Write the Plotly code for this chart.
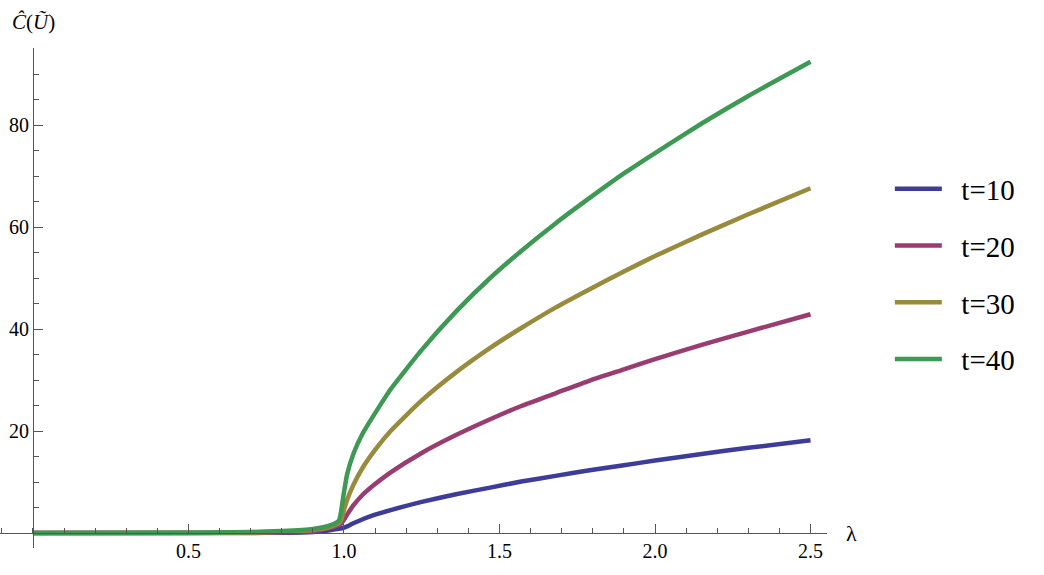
import plotly.graph_objects as go

lam = [0.0, 0.5, 0.7, 0.8, 0.9, 0.95, 0.98, 0.985, 0.99, 1.0, 1.01, 1.03, 1.06, 1.1,
       1.15, 1.25, 1.36, 1.47, 1.57, 1.68, 1.79, 1.9, 2.0, 2.15, 2.3, 2.5]

c_t10 = [0.0, 0.0, 0.02, 0.05, 0.2, 0.5, 0.8, 0.85, 0.9, 1.05, 1.3, 1.9, 2.7, 3.6,
         4.5, 6.1, 7.6, 8.9, 10.1, 11.2, 12.3, 13.3, 14.2, 15.5, 16.7, 18.2]
c_t20 = [0.0, 0.02, 0.05, 0.1, 0.4, 0.9, 1.5, 1.65, 1.8, 2.6, 3.6, 5.4, 7.5, 9.6,
         11.9, 15.7, 19.2, 22.3, 24.9, 27.4, 29.9, 32.1, 34.1, 36.9, 39.5, 42.9]
c_t30 = [0.0, 0.03, 0.1, 0.25, 0.6, 1.1, 1.8, 2.0, 2.4, 4.5, 6.5, 9.4, 12.8, 16.3,
         20.0, 26.0, 31.5, 36.3, 40.2, 44.2, 47.8, 51.3, 54.3, 58.5, 62.5, 67.6]
c_t40 = [0.0, 0.05, 0.2, 0.4, 0.8, 1.4, 2.2, 2.6, 4.0, 8.0, 11.5, 15.5, 19.5, 23.5,
         28.2, 35.9, 43.4, 50.0, 55.3, 60.7, 65.7, 70.5, 74.5, 80.3, 85.7, 92.4]

names = ["t=10", "t=20", "t=30", "t=40"]
series = [c_t10, c_t20, c_t30, c_t40]
colors = ["#3D3D99", "#993D71", "#998B3D", "#3D9954"]

x_ticks = [0.5, 1.0, 1.5, 2.0, 2.5]
x_ticktext = ["0.5", "1.0", "1.5", "2.0", "2.5"]
y_ticks = [20, 40, 60, 80]

xmin, xmax = -0.106, 2.553
ymin, ymax = -2.94, 95.1

fig = go.Figure()
for nm, ys, col in zip(names, series, colors):
    fig.add_trace(go.Scatter(x=lam, y=ys, mode="lines",
                             name="\u00a0\u00a0" + nm, legendgroup=nm,
                             line=dict(color=col, width=4.5, shape="spline",
                                       smoothing=0.5)))

axis_col = "#555555"
fig.update_layout(
    width=1044, height=575,
    margin=dict(l=0, r=217, t=48, b=27),
    paper_bgcolor="white", plot_bgcolor="white",
    font=dict(family="Liberation Serif", color="black", size=20),
    showlegend=True,
    legend=dict(x=1.076, y=0.769, xanchor="left", yanchor="top",
                font=dict(size=29, family="Liberation Serif"),
                tracegroupgap=16, itemwidth=47, bgcolor="rgba(0,0,0,0)"),
    xaxis=dict(range=[xmin, xmax], showgrid=False, zeroline=False,
               showline=True, linecolor=axis_col, linewidth=1,
               anchor="free", position=(0 - ymin) / (ymax - ymin),
               tickmode="array", tickvals=x_ticks, ticktext=x_ticktext,
               ticks="inside", ticklen=9, tickcolor=axis_col,
               tickfont=dict(size=20),
               minor=dict(dtick=0.1, tick0=0, ticks="inside", ticklen=5,
                          tickcolor=axis_col, showgrid=False)),
    yaxis=dict(range=[ymin, ymax], showgrid=False, zeroline=False,
               showline=True, linecolor=axis_col, linewidth=1,
               anchor="free", position=(0 - xmin) / (xmax - xmin),
               tickmode="array", tickvals=y_ticks,
               ticks="inside", ticklen=9, tickcolor=axis_col,
               tickfont=dict(size=20),
               minor=dict(dtick=5, tick0=0, ticks="inside", ticklen=5,
                          tickcolor=axis_col, showgrid=False)),
)

fig.add_annotation(text="<i>Ĉ</i>(<i>Ũ</i>)", xref="paper", yref="paper",
                   x=0.041, y=1.052, xanchor="center", yanchor="middle",
                   showarrow=False, font=dict(size=21, family="Liberation Serif"))
fig.add_annotation(text="λ", xref="paper", yref="y",
                   x=1.030, y=0, xanchor="center", yanchor="middle",
                   showarrow=False, font=dict(size=22, family="Liberation Serif"))

fig.write_html("out.html")
